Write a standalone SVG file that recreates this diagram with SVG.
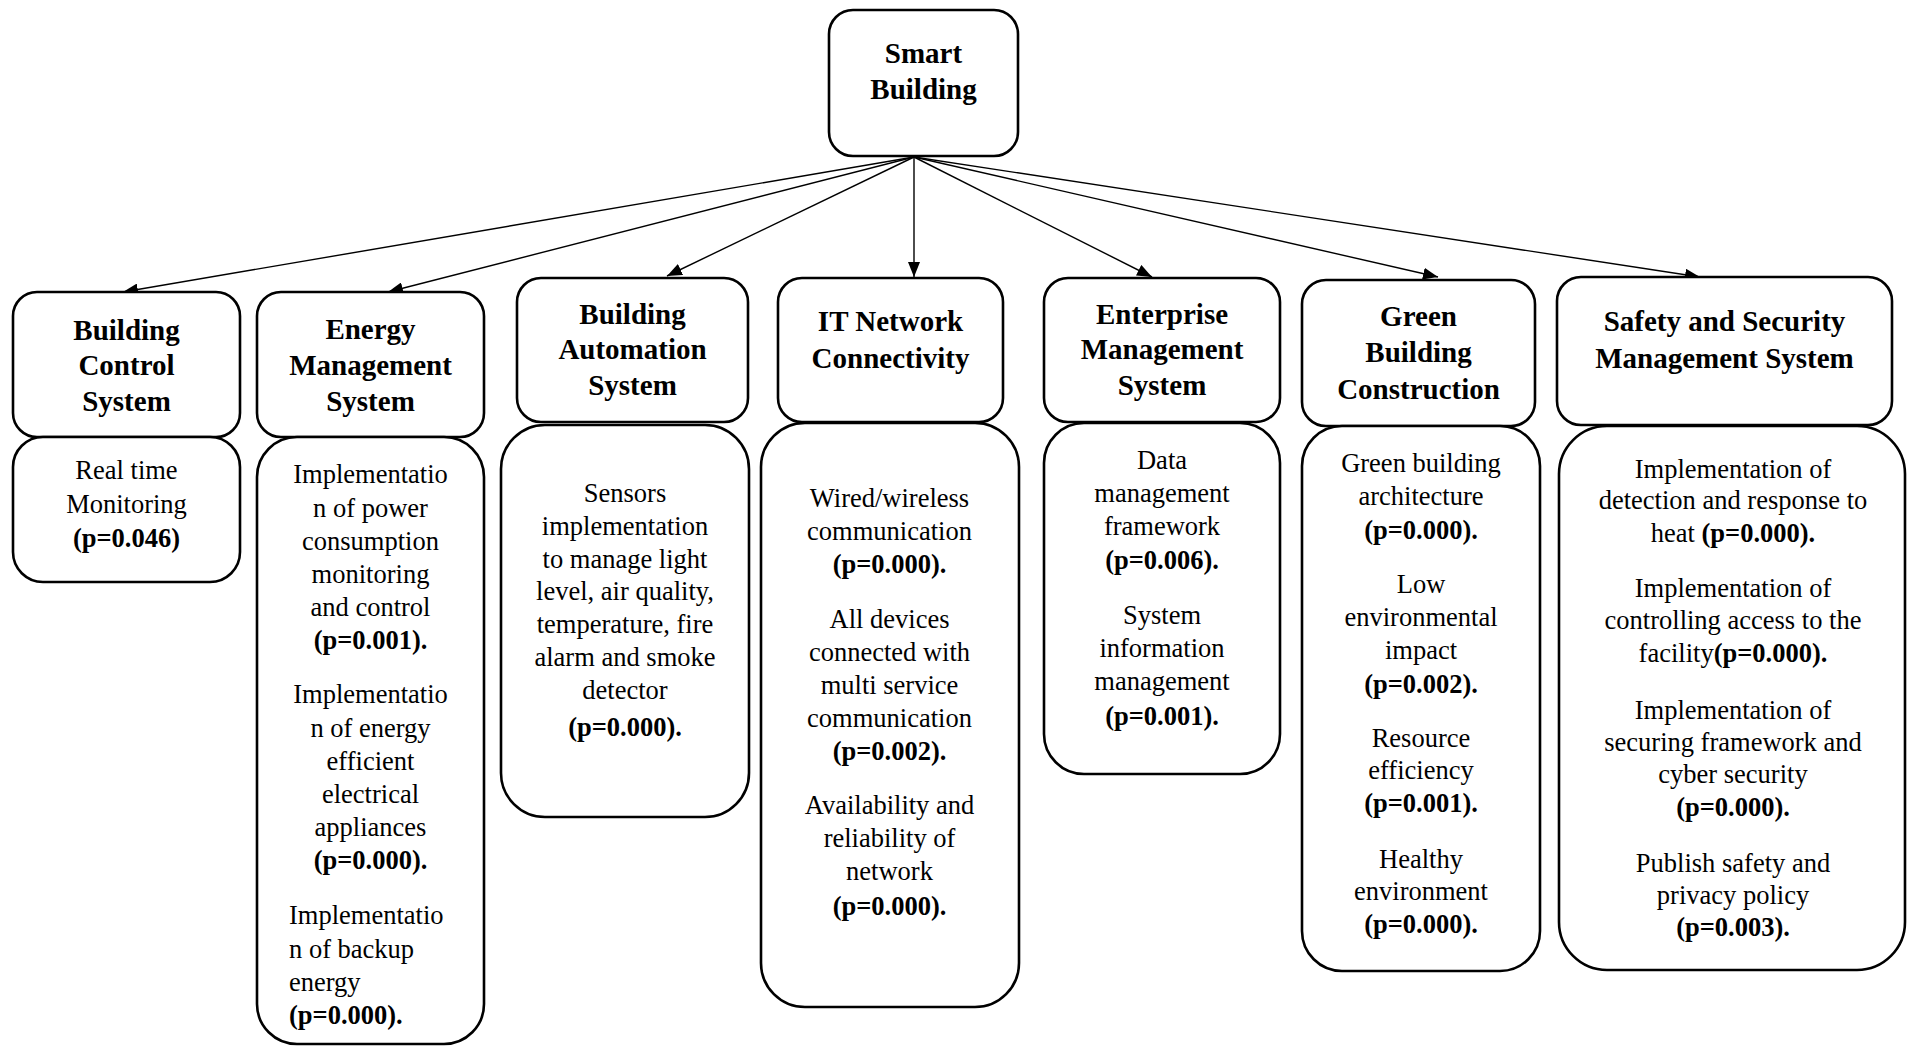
<svg xmlns="http://www.w3.org/2000/svg" width="1907" height="1047" viewBox="0 0 1907 1047">
<style>
.box{fill:#fff;stroke:#000;stroke-width:2.6}
.h{font-family:"Liberation Serif","Times New Roman",serif;font-weight:bold;font-size:29px;text-anchor:middle;fill:#000}
.t{font-family:"Liberation Serif","Times New Roman",serif;font-size:26.5px;text-anchor:middle;fill:#000}
.l{text-anchor:start}
.b{font-weight:bold}
.e{stroke:#000;stroke-width:1.4;fill:none;marker-end:url(#ah)}
</style>
<defs>
<marker id="ah" markerUnits="userSpaceOnUse" markerWidth="16" markerHeight="12" refX="15" refY="6" orient="auto">
<path d="M0,0 L15,6 L0,12 Z" fill="#000"/>
</marker>
</defs>
<rect width="1907" height="1047" fill="#fff"/>
<g id="connectors">
<line class="e" x1="914" y1="157" x2="123" y2="292"/>
<line class="e" x1="914" y1="157" x2="388" y2="292"/>
<line class="e" x1="914" y1="157" x2="667" y2="276"/>
<line class="e" x1="914" y1="157" x2="914" y2="277"/>
<line class="e" x1="914" y1="157" x2="1152" y2="277"/>
<line class="e" x1="914" y1="157" x2="1438" y2="277"/>
<line class="e" x1="914" y1="157" x2="1700" y2="277"/>
</g>
<g id="smart-building">
<rect class="box" x="829" y="10" width="189" height="146" rx="24"/>
<text class="h" x="923.5" y="63">Smart</text>
<text class="h" x="923.5" y="99">Building</text>
</g>
<g id="building-control-system">
<rect class="box" x="13" y="292" width="227" height="145" rx="24"/>
<text class="h" x="126.5" y="340">Building</text>
<text class="h" x="126.5" y="375">Control</text>
<text class="h" x="126.5" y="411">System</text>
</g>
<g id="bcs-details">
<rect class="box" x="13" y="437" width="227" height="145" rx="30"/>
<text class="t" x="126.5" y="479">Real time</text>
<text class="t" x="126.5" y="513">Monitoring</text>
<text class="t b" x="126.5" y="547">(p=0.046)</text>
</g>
<g id="energy-management-system">
<rect class="box" x="257" y="292" width="227" height="145" rx="24"/>
<text class="h" x="370.5" y="339">Energy</text>
<text class="h" x="370.5" y="375">Management</text>
<text class="h" x="370.5" y="411">System</text>
</g>
<g id="ems-details">
<rect class="box" x="257" y="437" width="227" height="607" rx="40"/>
<text class="t" x="370.5" y="483">Implementatio</text>
<text class="t" x="370.5" y="517">n of power</text>
<text class="t" x="370.5" y="550">consumption</text>
<text class="t" x="370.5" y="583">monitoring</text>
<text class="t" x="370.5" y="616">and control</text>
<text class="t b" x="370.5" y="649">(p=0.001).</text>
<text class="t" x="370.5" y="703">Implementatio</text>
<text class="t" x="370.5" y="737">n of energy</text>
<text class="t" x="370.5" y="770">efficient</text>
<text class="t" x="370.5" y="803">electrical</text>
<text class="t" x="370.5" y="836">appliances</text>
<text class="t b" x="370.5" y="869">(p=0.000).</text>
<text class="t l" x="289" y="924">Implementatio</text>
<text class="t l" x="289" y="958">n of backup</text>
<text class="t l" x="289" y="991">energy</text>
<text class="t l b" x="289" y="1024">(p=0.000).</text>
</g>
<g id="building-automation-system">
<rect class="box" x="517" y="278" width="231" height="144" rx="24"/>
<text class="h" x="632.5" y="324">Building</text>
<text class="h" x="632.5" y="359">Automation</text>
<text class="h" x="632.5" y="395">System</text>
</g>
<g id="bas-details">
<rect class="box" x="501" y="425" width="248" height="392" rx="44"/>
<text class="t" x="625" y="502">Sensors</text>
<text class="t" x="625" y="535">implementation</text>
<text class="t" x="625" y="568">to manage light</text>
<text class="t" x="625" y="600">level, air quality,</text>
<text class="t" x="625" y="633">temperature, fire</text>
<text class="t" x="625" y="666">alarm and smoke</text>
<text class="t" x="625" y="699">detector</text>
<text class="t b" x="625" y="736">(p=0.000).</text>
</g>
<g id="it-network-connectivity">
<rect class="box" x="778" y="278" width="225" height="144" rx="24"/>
<text class="h" x="890.5" y="331">IT Network</text>
<text class="h" x="890.5" y="368">Connectivity</text>
</g>
<g id="itn-details">
<rect class="box" x="761" y="423" width="258" height="584" rx="44"/>
<text class="t" x="889.5" y="507">Wired/wireless</text>
<text class="t" x="889.5" y="540">communication</text>
<text class="t b" x="889.5" y="573">(p=0.000).</text>
<text class="t" x="889.5" y="628">All devices</text>
<text class="t" x="889.5" y="661">connected with</text>
<text class="t" x="889.5" y="694">multi service</text>
<text class="t" x="889.5" y="727">communication</text>
<text class="t b" x="889.5" y="760">(p=0.002).</text>
<text class="t" x="889.5" y="814">Availability and</text>
<text class="t" x="889.5" y="847">reliability of</text>
<text class="t" x="889.5" y="880">network</text>
<text class="t b" x="889.5" y="915">(p=0.000).</text>
</g>
<g id="enterprise-management-system">
<rect class="box" x="1044" y="278" width="236" height="144" rx="24"/>
<text class="h" x="1162" y="324">Enterprise</text>
<text class="h" x="1162" y="359">Management</text>
<text class="h" x="1162" y="395">System</text>
</g>
<g id="ems2-details">
<rect class="box" x="1044" y="423" width="236" height="351" rx="40"/>
<text class="t" x="1162" y="469">Data</text>
<text class="t" x="1162" y="502">management</text>
<text class="t" x="1162" y="535">framework</text>
<text class="t b" x="1162" y="569">(p=0.006).</text>
<text class="t" x="1162" y="624">System</text>
<text class="t" x="1162" y="657">information</text>
<text class="t" x="1162" y="690">management</text>
<text class="t b" x="1162" y="725">(p=0.001).</text>
</g>
<g id="green-building-construction">
<rect class="box" x="1302" y="280" width="233" height="146" rx="24"/>
<text class="h" x="1418.5" y="326">Green</text>
<text class="h" x="1418.5" y="362">Building</text>
<text class="h" x="1418.5" y="399">Construction</text>
</g>
<g id="gbc-details">
<rect class="box" x="1302" y="426" width="238" height="545" rx="40"/>
<text class="t" x="1421" y="472">Green building</text>
<text class="t" x="1421" y="505">architecture</text>
<text class="t b" x="1421" y="539">(p=0.000).</text>
<text class="t" x="1421" y="593">Low</text>
<text class="t" x="1421" y="626">environmental</text>
<text class="t" x="1421" y="659">impact</text>
<text class="t b" x="1421" y="693">(p=0.002).</text>
<text class="t" x="1421" y="747">Resource</text>
<text class="t" x="1421" y="779">efficiency</text>
<text class="t b" x="1421" y="812">(p=0.001).</text>
<text class="t" x="1421" y="868">Healthy</text>
<text class="t" x="1421" y="900">environment</text>
<text class="t b" x="1421" y="933">(p=0.000).</text>
</g>
<g id="safety-security-management-system">
<rect class="box" x="1557" y="277" width="335" height="148" rx="24"/>
<text class="h" x="1724.5" y="331">Safety and Security</text>
<text class="h" x="1724.5" y="368">Management System</text>
</g>
<g id="ssms-details">
<rect class="box" x="1559" y="426" width="346" height="544" rx="48"/>
<text class="t" x="1733" y="478">Implementation of</text>
<text class="t" x="1733" y="509">detection and response to</text>
<text class="t" x="1733" y="542">heat <tspan class="b">(p=0.000).</tspan></text>
<text class="t" x="1733" y="597">Implementation of</text>
<text class="t" x="1733" y="629">controlling access to the</text>
<text class="t" x="1733" y="662">facility<tspan class="b">(p=0.000).</tspan></text>
<text class="t" x="1733" y="719">Implementation of</text>
<text class="t" x="1733" y="751">securing framework and</text>
<text class="t" x="1733" y="783">cyber security</text>
<text class="t b" x="1733" y="816">(p=0.000).</text>
<text class="t" x="1733" y="872">Publish safety and</text>
<text class="t" x="1733" y="904">privacy policy</text>
<text class="t b" x="1733" y="936">(p=0.003).</text>
</g>
</svg>
